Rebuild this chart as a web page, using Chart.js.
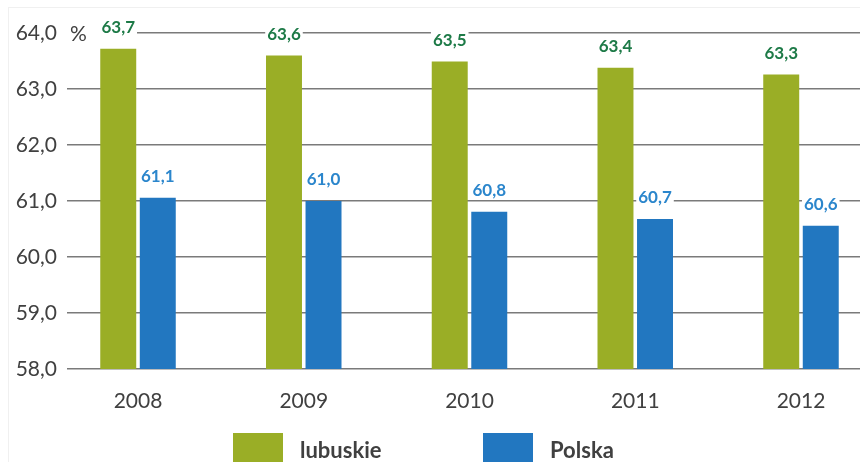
<!DOCTYPE html>
<html><head><meta charset="utf-8">
<script src="https://cdn.jsdelivr.net/npm/chart.js@4/dist/chart.umd.min.js"></script>
<style>
html,body{margin:0;padding:0;background:#fff;overflow:hidden;}
#wrap{position:relative;width:860px;height:462px;}
#frame{position:absolute;left:8px;top:7px;right:-2px;bottom:-2px;border-left:1px solid #f0f0f0;border-top:1px solid #f0f0f0;pointer-events:none;}
canvas{display:block;}
</style></head><body>
<div id="wrap"><canvas id="c" width="860" height="462" style="width:860px;height:462px"></canvas><div id="frame"></div></div>
<script>
// ---- data ----
const years = ['2008', '2009', '2010', '2011', '2012'];
const lubuskie = [63.72, 63.6, 63.49, 63.38, 63.26];
const polska = [61.06, 61.0, 60.81, 60.68, 60.56];
const yTicks = [58, 59, 60, 61, 62, 63, 64];
const seriesNames = ['lubuskie', 'Polska'];
const unitLabel = '%';

const barColors = ['#9aae26', '#2277c0'];
const labelColors = ['#1d7a47', '#2b86cc'];
const textColor = '#404040';
const FONT = 'Lato';

const fmt = v => (Math.round(v * 10) / 10).toFixed(1).replace('.', ',');

const decorPlugin = {
  id: 'decor',
  afterDatasetsDraw(chart) {
    const ctx = chart.ctx;
    const area = chart.chartArea;
    const ys = chart.scales.y;
    ctx.save();
    // unit label
    const py = ys.getPixelForValue(yTicks[yTicks.length - 1]);
    ctx.fillStyle = '#fff';
    ctx.fillRect(area.left, py - 10, 34, 20);
    ctx.fillStyle = textColor;
    ctx.font = '21px ' + FONT;
    ctx.textAlign = 'left';
    ctx.textBaseline = 'middle';
    ctx.fillText(unitLabel, area.left + 3, py + 1);
    // value labels
    ctx.font = 'bold 17px ' + FONT;
    ctx.textAlign = 'center';
    chart.data.datasets.forEach((ds, di) => {
      const meta = chart.getDatasetMeta(di);
      meta.data.forEach((bar, i) => {
        const t = fmt(ds.data[i].y);
        const w = ctx.measureText(t).width;
        const cy = bar.y - 22;
        ctx.fillStyle = '#fff';
        ctx.fillRect(bar.x - w / 2 - 2, cy - 9, w + 4, 18);
        ctx.fillStyle = labelColors[di];
        ctx.fillText(t, bar.x, cy + 1);
      });
    });
    ctx.restore();
  },
  afterDraw(chart) {
    const ctx = chart.ctx;
    ctx.save();
    ctx.font = 'bold 22px ' + FONT;
    ctx.textAlign = 'left';
    ctx.textBaseline = 'middle';
    chart.data.datasets.forEach((ds, i) => {
      const x = 233 + i * 250;
      ctx.fillStyle = ds.backgroundColor;
      ctx.fillRect(x, 433, 50, 34);
      ctx.fillStyle = textColor;
      ctx.fillText(ds.label, x + 67, 451);
    });
    ctx.restore();
  }
};

const toPoints = arr => arr.map((v, i) => ({ x: i, y: v }));

new Chart(document.getElementById('c'), {
  type: 'bar',
  data: {
    datasets: [
      { label: seriesNames[0], data: toPoints(lubuskie), backgroundColor: barColors[0], borderWidth: 0, categoryPercentage: 0.477, barPercentage: 0.91 },
      { label: seriesNames[1], data: toPoints(polska), backgroundColor: barColors[1], borderWidth: 0, categoryPercentage: 0.477, barPercentage: 0.91 }
    ]
  },
  options: {
    responsive: false,
    animation: false,
    events: [],
    layout: { padding: { top: 33, left: 0, right: 0, bottom: 0 } },
    plugins: { legend: { display: false }, tooltip: { enabled: false } },
    scales: {
      x: {
        type: 'linear',
        bounds: 'data',
        offset: false,
        min: -0.4284,
        max: 4.356,
        grid: { display: false, offset: false },
        border: { display: false },
        afterBuildTicks: s => { s.ticks = years.map((_, i) => ({ value: i })); },
        afterFit: s => { s.height = 93; },
        ticks: {
          callback: v => years[v],
          font: { family: FONT, size: 21 },
          color: textColor,
          padding: 12,
          autoSkip: false,
          maxRotation: 0
        }
      },
      y: {
        min: yTicks[0],
        max: yTicks[yTicks.length - 1],
        afterBuildTicks: s => { s.ticks = yTicks.map(v => ({ value: v })); },
        afterFit: s => { s.width = 67; },
        grid: { color: '#7a7a7a', lineWidth: 1.5, drawTicks: false },
        border: { display: false },
        ticks: {
          callback: v => v.toFixed(1).replace('.', ','),
          font: { family: FONT, size: 21 },
          color: textColor,
          padding: 10
        }
      }
    }
  },
  plugins: [decorPlugin]
});
</script>
</body></html>
